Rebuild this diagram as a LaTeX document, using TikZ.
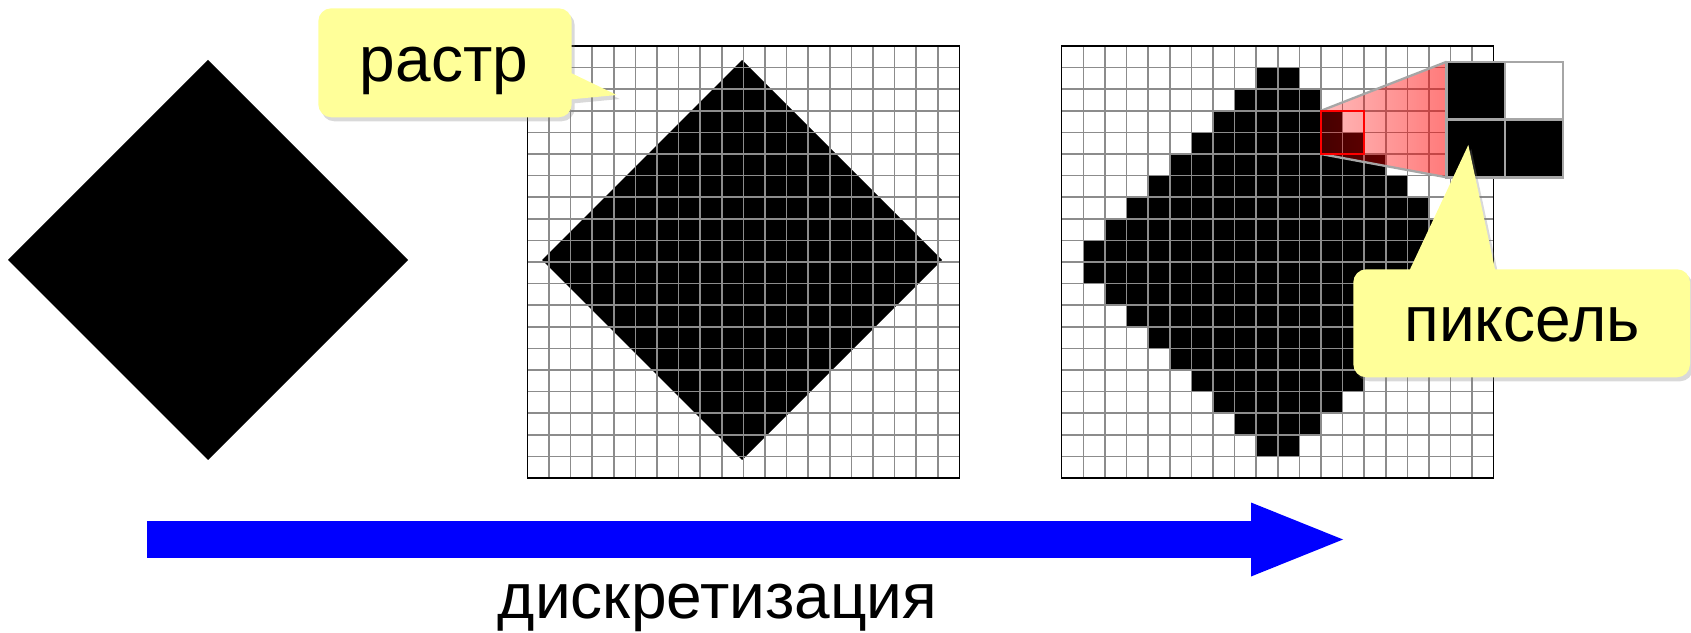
\documentclass[tikz,border=0pt]{standalone}
\usepackage{fontspec}
\setmainfont{Liberation Sans}
\usetikzlibrary{arrows.meta, positioning, calc, shadows, fadings}

\definecolor{callyellow}{HTML}{FFFF99}
\definecolor{gridgray}{HTML}{8C8C8C}
\definecolor{zoomgray}{HTML}{A6A6A6}
\tikzfading[name=pinkfade, left color=transparent!73, right color=transparent!48]

\begin{document}
\begin{tikzpicture}[
  x=1pt, y=1pt,
  every node/.style={font=\fontsize{64}{70}\selectfont},
  callout/.style={
    fill=callyellow,
    drop shadow={shadow xshift=3pt, shadow yshift=-4pt, opacity=0.3}
  },
  gridline/.style={draw=gridgray, line width=1.6pt},
  gridframe/.style={draw=black, line width=1.3pt},
  pixwin/.style={draw=red, line width=2.4pt, inner sep=0pt, outer sep=0pt, minimum size=43.2pt},
  zoombox/.style={fill=black, inner sep=0pt, outer sep=0pt,
    minimum width=116.6pt, minimum height=115.6pt},
  zoomline/.style={draw=zoomgray, line width=2.3pt},
  bigarrow/.style={blue, line width=37.6pt,
    -{Triangle[length=92pt, width=74pt, line width=0pt]}},
]
\useasboundingbox (0,0) rectangle (1691,632);

%% ── Original shape ────────────────────────────────────────────────────────
\fill[black] (8,372) -- (208,572) -- (408,372) -- (208,172) -- cycle;

%% ── Shape on the raster ───────────────────────────────────────────────────
\fill[black] (542,372) -- (742,572) -- (942,372) -- (742,172) -- cycle;
\begin{scope}[shift={(527.3,586)}, x=21.6pt, y=-21.6pt]
  \foreach \k in {1,...,19} {
    \draw[gridline] (\k,0) -- (\k,20);
    \draw[gridline] (0,\k) -- (20,\k);
  }
  \draw[gridframe] (0,0) rectangle (20,20);
\end{scope}

%% ── Pixel image ───────────────────────────────────────────────────────────
\begin{scope}[shift={(1061.7,586)}, x=21.6pt, y=-21.6pt]
  \foreach \j in {1,...,18} {
    \pgfmathtruncatemacro\k{min(\j,19-\j)}
    \fill[black] (10-\k,\j) rectangle (10+\k,\j+1);
  }
  \foreach \k in {1,...,19} {
    \draw[gridline] (\k,0) -- (\k,20);
    \draw[gridline] (0,\k) -- (20,\k);
  }
  \draw[gridframe] (0,0) rectangle (20,20);

  %% magnifier
  \coordinate (wTop) at (12,3);
  \coordinate (wBot) at (12,5);
  \coordinate (zTop) at (17.82,0.73);
  \coordinate (zBot) at (17.82,6.08);
  \fill[red, path fading=pinkfade] (wTop) -- (zTop) -- (zBot) -- (wBot) -- cycle;
  \draw[zoomline] (wTop) -- (zTop);
  \draw[zoomline] (wBot) -- (zBot);
  \node[pixwin] (pixwin) at (13,4) {};
  \node[zoombox, anchor=north west] (pixzoom) at (zTop) {};
  \fill[white] (pixzoom.north) rectangle (pixzoom.east);
  \draw[zoomline] (pixzoom.north) -- (pixzoom.south);
  \draw[zoomline] (pixzoom.west) -- (pixzoom.east);
  \draw[zoomline] (pixzoom.north west) rectangle (pixzoom.south east);
\end{scope}

%% ── Callouts ──────────────────────────────────────────────────────────────
\path[callout] (331.3,623.7) -- (558.7,623.7)
  arc[start angle=90, end angle=0, radius=13] -- (571.7,558.7)
  -- (616.7,537) -- (571.7,532.7) -- (571.7,527.7)
  arc[start angle=0, end angle=-90, radius=13] -- (331.3,514.7)
  arc[start angle=270, end angle=180, radius=13] -- (318.3,610.7)
  arc[start angle=180, end angle=90, radius=13] -- cycle;
\node[anchor=base] (rastr) at (444,550) {растр};

\path[callout] (1366.3,362.7) -- (1410,362.7) -- (1468.3,487)
  -- (1495,362.7) -- (1677,362.7)
  arc[start angle=90, end angle=0, radius=13] -- (1690,267.7)
  arc[start angle=0, end angle=-90, radius=13] -- (1366.3,254.7)
  arc[start angle=270, end angle=180, radius=13] -- (1353.3,349.7)
  arc[start angle=180, end angle=90, radius=13] -- cycle;
\node[anchor=base] (piksel) at (1522,290.3) {пиксель};

%% ── Discretisation arrow ──────────────────────────────────────────────────
\coordinate (arrS) at (147,92.5);
\coordinate (arrE) at (1343,92.5);
\draw[bigarrow] (arrS) -- (arrE);
\node[anchor=base] (diskret) at (717.5,14) {дискретизация};

\end{tikzpicture}
\end{document}
